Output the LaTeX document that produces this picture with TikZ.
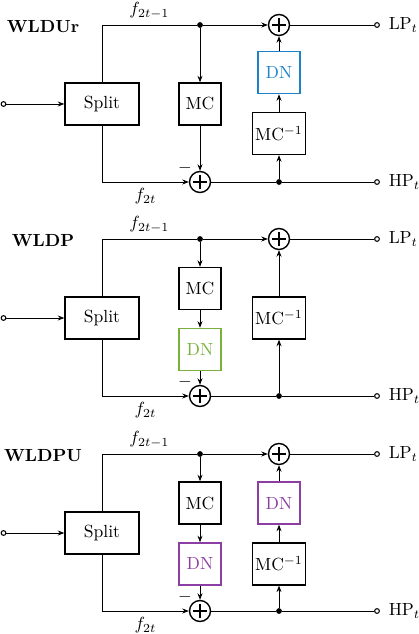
\documentclass[tikz,border=0pt]{standalone}
\usepackage{xcolor}
\usepackage{tikz}
\usetikzlibrary{arrows.meta,positioning}
\definecolor{dnblue}{RGB}{30,130,200}
\definecolor{dngreen}{RGB}{122,176,60}
\definecolor{dnpurple}{RGB}{140,62,162}
\tikzset{
  block/.style={
    draw,
    line width=0.8pt,
    minimum width=0.84cm,
    minimum height=0.84cm,
    inner sep=1.5pt
  },
  splitbox/.style={block, minimum width=1.48cm},
  dnbox/.style={block, draw=#1, text=#1},
  adder/.style={
    circle,
    draw,
    line width=0.8pt,
    minimum size=0.42cm,
    inner sep=0pt,
    path picture={\draw[line width=0.8pt]
      (path picture bounding box.center) ++(-0.14,0) -- ++(0.28,0)
      (path picture bounding box.center) ++(0,-0.14) -- ++(0,0.28);}
  },
  minus/.style={label={[inner sep=0pt]135:$-$}},
  junction/.style={circle, fill, inner sep=0pt, minimum size=1.15mm},
  port/.style={circle, draw, line width=0.6pt, fill=white, inner sep=0pt, minimum size=0.95mm},
  outport/.style={port, label={[label distance=1.5pt]right:#1}},
  title/.style={font=\bfseries},
  line/.style={line width=0.45pt},
  rel/.style={line, -{Stealth[length=1.3mm, width=1mm]}}
}

\begin{document}
\begin{tikzpicture}[node distance=0.35cm]
  \useasboundingbox (0,0) rectangle (8.36,-12.68);

  % WLDUr
  \begin{scope}
    \node[title] (t1) at (0.86,-0.54) {WLDUr};
    \node[port] (in1) at (0.07,-2.08) {};
    \node[splitbox] (sp1) at (2.04,-2.08) {Split};
    \node[junction] (jt1) at (4.00,-0.50) {};
    \node[block] (mc1) at (4.00,-2.08) {MC};
    \node[adder, minus] (ab1) at (4.00,-3.64) {};
    \node[adder] (at1) at (5.58,-0.50) {};
    \node[block] (mci1) at (5.58,-2.67) {MC$^{-1}$};
    \node[dnbox=dnblue, above=of mci1] (dn1) {DN};
    \node[junction] (jb1) at (5.58,-3.64) {};
    \node[outport=$\mathrm{LP}_t$] (lp1) at (7.54,-0.50) {};
    \node[outport=$\mathrm{HP}_t$] (hp1) at (7.54,-3.64) {};

    \draw[rel] (in1) -- (sp1);
    \draw[line] (sp1) |- node[pos=0.75, above] {$f_{2t-1}$} (jt1);
    \draw[rel] (jt1) -- (at1);
    \draw[line] (at1) -- (lp1);
    \draw[rel] (sp1) |- node[pos=0.75, below] {$f_{2t}$} (ab1);
    \draw[rel] (jt1) -- (mc1);
    \draw[rel] (mc1) -- (ab1);
    \draw[line] (ab1) -- (jb1) -- (hp1);
    \draw[rel] (jb1) -- (mci1);
    \draw[rel] (mci1) -- (dn1);
    \draw[rel] (dn1) -- (at1);
  \end{scope}

  % WLDP
  \begin{scope}[yshift=-4.28cm]
    \node[title] (t2) at (0.86,-0.54) {WLDP};
    \node[port] (in2) at (0.07,-2.08) {};
    \node[splitbox] (sp2) at (2.04,-2.08) {Split};
    \node[junction] (jt2) at (4.00,-0.50) {};
    \node[block] (mc2) at (4.00,-1.49) {MC};
    \node[dnbox=dngreen, below=of mc2] (dn2) {DN};
    \node[adder, minus] (ab2) at (4.00,-3.64) {};
    \node[adder] (at2) at (5.58,-0.50) {};
    \node[block] (mci2) at (5.58,-2.08) {MC$^{-1}$};
    \node[junction] (jb2) at (5.58,-3.64) {};
    \node[outport=$\mathrm{LP}_t$] (lp2) at (7.54,-0.50) {};
    \node[outport=$\mathrm{HP}_t$] (hp2) at (7.54,-3.64) {};

    \draw[rel] (in2) -- (sp2);
    \draw[line] (sp2) |- node[pos=0.75, above] {$f_{2t-1}$} (jt2);
    \draw[rel] (jt2) -- (at2);
    \draw[line] (at2) -- (lp2);
    \draw[rel] (sp2) |- node[pos=0.75, below] {$f_{2t}$} (ab2);
    \draw[rel] (jt2) -- (mc2);
    \draw[rel] (mc2) -- (dn2);
    \draw[rel] (dn2) -- (ab2);
    \draw[line] (ab2) -- (jb2) -- (hp2);
    \draw[rel] (jb2) -- (mci2);
    \draw[rel] (mci2) -- (at2);
  \end{scope}

  % WLDPU
  \begin{scope}[yshift=-8.58cm]
    \node[title] (t3) at (0.86,-0.54) {WLDPU};
    \node[port] (in3) at (0.07,-2.08) {};
    \node[splitbox] (sp3) at (2.04,-2.08) {Split};
    \node[junction] (jt3) at (4.00,-0.50) {};
    \node[block] (mc3) at (4.00,-1.48) {MC};
    \node[dnbox=dnpurple, below=of mc3] (dn3) {DN};
    \node[adder, minus] (ab3) at (4.00,-3.64) {};
    \node[adder] (at3) at (5.58,-0.50) {};
    \node[dnbox=dnpurple] (dnr3) at (5.58,-1.48) {DN};
    \node[block, below=of dnr3] (mci3) {MC$^{-1}$};
    \node[junction] (jb3) at (5.58,-3.64) {};
    \node[outport=$\mathrm{LP}_t$] (lp3) at (7.54,-0.50) {};
    \node[outport=$\mathrm{HP}_t$] (hp3) at (7.54,-3.64) {};

    \draw[rel] (in3) -- (sp3);
    \draw[line] (sp3) |- node[pos=0.75, above] {$f_{2t-1}$} (jt3);
    \draw[rel] (jt3) -- (at3);
    \draw[line] (at3) -- (lp3);
    \draw[rel] (sp3) |- node[pos=0.75, below] {$f_{2t}$} (ab3);
    \draw[rel] (jt3) -- (mc3);
    \draw[rel] (mc3) -- (dn3);
    \draw[rel] (dn3) -- (ab3);
    \draw[line] (ab3) -- (jb3) -- (hp3);
    \draw[rel] (jb3) -- (mci3);
    \draw[rel] (mci3) -- (dnr3);
    \draw[rel] (dnr3) -- (at3);
  \end{scope}
\end{tikzpicture}
\end{document}
